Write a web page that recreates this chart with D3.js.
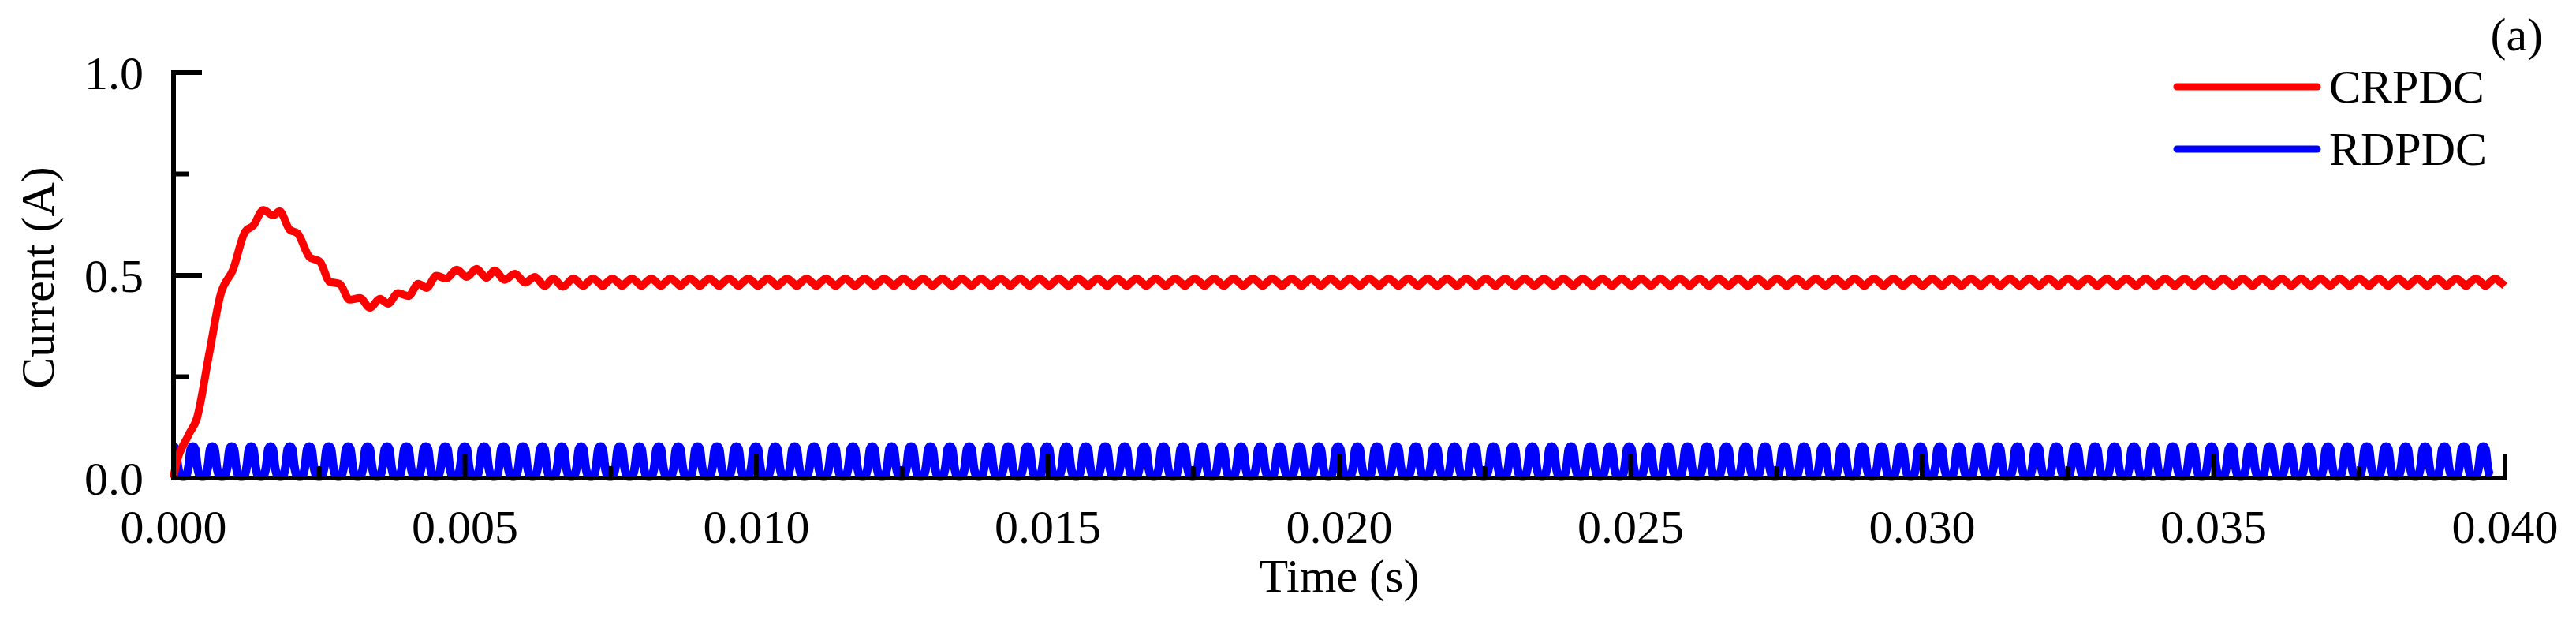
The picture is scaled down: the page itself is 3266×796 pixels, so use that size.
<!DOCTYPE html>
<html><head><meta charset="utf-8">
<script src="https://cdn.jsdelivr.net/npm/d3@7"></script>
<style>body{margin:0;background:#fff}text{font-family:"Liberation Serif","DejaVu Serif",serif;fill:#000}</style>
</head><body><svg id="c" width="3266" height="796"></svg>
<script>
// --- data ---
const xTicks = [0,0.005,0.010,0.015,0.020,0.025,0.030,0.035,0.040];
const yTicks = [0.0,0.5,1.0];
const seriesNames = ["CRPDC","RDPDC"];
// CRPDC transient (time s, current A)
const crpdcTransientT = [0,0.00001,0.00026,0.0004,0.00061,0.00081,0.00102,0.00123,0.00137,0.00154,0.00171,0.00182,0.00199,0.00213,0.00234,0.00251,0.00268,0.00285,0.00302,0.0032,0.00337,0.00354,0.00368,0.00385,0.00403,0.0042,0.00434,0.00451,0.00468,0.00486,0.00503,0.0052,0.00537,0.00551,0.00568,0.00586,0.00603,0.0062,0.00637,0.00651,0.00668,0.00686,0.00703];
const crpdcTransientV = [0.0,0.01,0.107,0.147,0.305,0.454,0.514,0.608,0.623,0.661,0.648,0.658,0.613,0.603,0.544,0.534,0.484,0.479,0.44,0.444,0.42,0.442,0.43,0.456,0.449,0.479,0.469,0.499,0.492,0.514,0.496,0.516,0.494,0.512,0.489,0.504,0.482,0.496,0.474,0.492,0.472,0.492,0.474];
// CRPDC steady-state ripple, one period (3 kHz)
const ripplePeriod = 0.000333;
const crpdcRipple = [0.474,0.484,0.492,0.484];
// RDPDC pulse, one period of samples
const rdpdcPulse = [0.078,0.072,0.03,0.008,0.004,0.004,0.008,0.03,0.072,0.078];
const periodsCount = 120;

const x=d3.scaleLinear().domain([0,0.04]).range([220,3176]);
const y=d3.scaleLinear().domain([0,1]).range([606,92]);
const svg=d3.select("#c");

const red=crpdcTransientT.map((t,i)=>[t,crpdcTransientV[i]]);
const tEnd=crpdcTransientT[crpdcTransientT.length-1];
for(let k=1;tEnd+k*ripplePeriod/4<=0.04;k++){ red.push([tEnd+k*ripplePeriod/4, crpdcRipple[k%4]]); }
const blue=[];
for(let p=0;p<periodsCount;p++){
  rdpdcPulse.forEach((v,i)=>{const t=p*ripplePeriod+i*ripplePeriod/(rdpdcPulse.length-1); if(i>0||p==0) if(t<=0.0398) blue.push([t,v]);});
}

const line=d3.line().x(d=>x(d[0])).y(d=>y(d[1])).curve(d3.curveMonotoneX);
svg.append("path").attr("d",line(blue)).attr("fill","none").attr("stroke","#0000ff").attr("stroke-width",11);
svg.append("path").attr("d",line(red)).attr("fill","none").attr("stroke","#ff0000").attr("stroke-width",10);

const ax=svg.append("g").attr("stroke","#000");
ax.append("line").attr("x1",220).attr("x2",220).attr("y1",y(1)-3).attr("y2",y(0)+3).attr("stroke-width",6);
ax.append("line").attr("x1",217).attr("x2",x(0.04)+3).attr("y1",y(0)).attr("y2",y(0)).attr("stroke-width",6);
[0,0.25,0.5,0.75,1].forEach(v=>{const maj=(v*2)%1===0;ax.append("line").attr("x1",220).attr("x2",220+(maj?36:20)).attr("y1",y(v)).attr("y2",y(v)).attr("stroke-width",6);});
d3.range(1,17).forEach(i=>{const v=i*0.0025;const maj=i%2===0;ax.append("line").attr("x1",x(v)).attr("x2",x(v)).attr("y1",y(0)).attr("y2",y(0)-(maj?30:15)).attr("stroke-width",6);});
xTicks.forEach(v=>svg.append("text").attr("x",x(v)).attr("y",688).attr("text-anchor","middle").attr("font-size",60).text(v.toFixed(3)));
yTicks.forEach(v=>svg.append("text").attr("x",182).attr("y",y(v)+21).attr("text-anchor","end").attr("font-size",60).text(v.toFixed(1)));
svg.append("text").attr("transform","translate(68,352) rotate(-90)").attr("text-anchor","middle").attr("font-size",60).text("Current (A)");
svg.append("text").attr("x",x(0.02)).attr("y",750).attr("text-anchor","middle").attr("font-size",60).text("Time (s)");
svg.append("text").attr("x",3224).attr("y",64).attr("text-anchor","end").attr("font-size",60).text("(a)");
[["#ff0000",110],["#0000ff",189]].forEach((c,i)=>{
  svg.append("line").attr("x1",2760).attr("x2",2938).attr("y1",c[1]).attr("y2",c[1]).attr("stroke",c[0]).attr("stroke-width",9).attr("stroke-linecap","round");
  svg.append("text").attr("x",2953).attr("y",c[1]+20).attr("font-size",60).text(seriesNames[i]);
});
</script></body></html>
